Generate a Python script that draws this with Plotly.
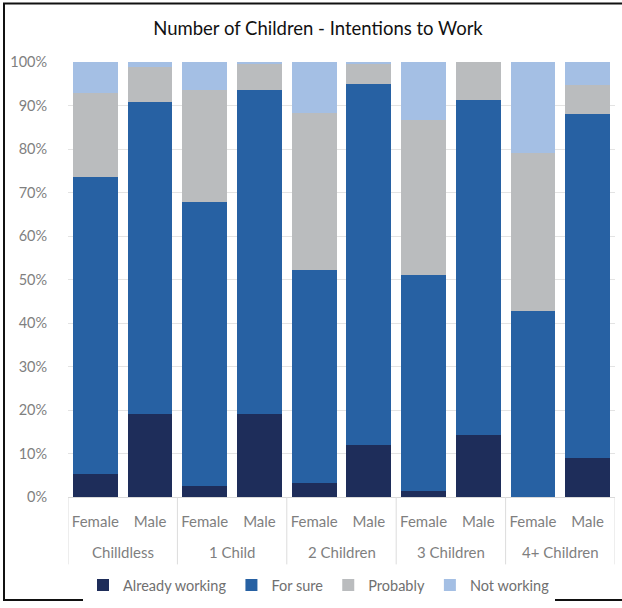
import plotly.graph_objects as go

groups = ["Chilldless", "Chilldless", "1 Child", "1 Child", "2 Children", "2 Children",
          "3 Children", "3 Children", "4+ Children", "4+ Children"]
sexes = ["Female", "Male"] * 5

already_working = [0.053, 0.190, 0.025, 0.190, 0.032, 0.120, 0.014, 0.143, 0.000, 0.089]
for_sure        = [0.683, 0.718, 0.654, 0.746, 0.490, 0.830, 0.496, 0.770, 0.428, 0.791]
probably        = [0.193, 0.081, 0.257, 0.061, 0.360, 0.045, 0.356, 0.087, 0.362, 0.068]
not_working     = [0.071, 0.011, 0.064, 0.003, 0.118, 0.005, 0.134, 0.000, 0.210, 0.052]

series = [
    ("Already working", already_working, "#1E2D5A"),
    ("For sure", for_sure, "#2761A3"),
    ("Probably", probably, "#BABCBE"),
    ("Not working", not_working, "#A4BFE4"),
]

FONT = "Lato, 'Open Sans', sans-serif"
GRAY = "#7F7F7F"

keys = [f"{g}|{s}" for g, s in zip(groups, sexes)]

fig = go.Figure()
for name, vals, col in series:
    fig.add_trace(go.Bar(
        x=keys, y=vals, name=name,
        marker=dict(color=col, line=dict(width=0)),
    ))

W, H = 622, 608
L, R, T, B = 68, 7, 62, 107
pw = W - L - R
ph = H - T - B

def px_x(p):
    return (p - L) / pw

def px_y(p):
    return (H - B - p) / ph

# group labels and dividers derived from the category list
unique_groups = []
for g in groups:
    if g not in unique_groups:
        unique_groups.append(g)

annotations = []
shapes = []
div_y0 = 0
div_y1 = px_y(569)
for g in unique_groups:
    idx = [i for i, gg in enumerate(groups) if gg == g]
    annotations.append(dict(
        x=(idx[0] + idx[-1]) / 2, xref="x",
        y=px_y(557), yref="paper", yanchor="middle",
        text=g, showarrow=False,
        font=dict(family=FONT, size=15, color=GRAY),
    ))
    shapes.append(dict(type="line", xref="x", yref="paper",
                       x0=idx[0] - 0.5, x1=idx[0] - 0.5, y0=div_y0, y1=div_y1,
                       line=dict(color="#DCDCDC", width=1)))
shapes.append(dict(type="line", xref="x", yref="paper",
                   x0=len(groups) - 0.5, x1=len(groups) - 0.5, y0=div_y0, y1=div_y1,
                   line=dict(color="#DCDCDC", width=1)))

shapes.append(dict(
    type="path", xref="paper", yref="paper",
    path=f"M {px_x(622)} {px_y(3)} L {px_x(4)} {px_y(3)} L {px_x(4)} {px_y(605)} L {px_x(622)} {px_y(605)}",
    line=dict(color="#111111", width=2)))

fig.update_layout(
    width=W, height=H,
    barmode="stack",
    bargap=0.18,
    margin=dict(l=L, r=R, t=T, b=B),
    paper_bgcolor="white",
    plot_bgcolor="white",
    font=dict(family=FONT, size=14, color=GRAY),
    title=dict(text="Number of Children - Intentions to Work",
               x=318 / W, xref="container", xanchor="center",
               y=1 - 29 / H, yref="container", yanchor="middle",
               font=dict(family=FONT, size=18.5, color="#111111")),
    showlegend=True,
    legend=dict(orientation="h", x=px_x(319), xanchor="center",
                y=px_y(590), yanchor="middle",
                font=dict(family=FONT, size=14.5, color="#707070"),
                traceorder="normal", itemwidth=30, tracegroupgap=0),
    xaxis=dict(
        type="category",
        range=[-0.5, len(keys) - 0.5],
        tickmode="array", tickvals=keys, ticktext=sexes,
        showgrid=False,
        showline=True, linecolor="#D9D9D9", linewidth=1,
        ticks="outside", ticklen=11, tickcolor="rgba(0,0,0,0)",
        tickfont=dict(family=FONT, size=15, color=GRAY),
    ),
    yaxis=dict(
        range=[0, 1],
        tickformat=".0%",
        dtick=0.1,
        showgrid=True, gridcolor="#E3E3E3", gridwidth=1,
        zeroline=False,
        showline=False,
        ticks="outside", ticklen=17, tickcolor="rgba(0,0,0,0)",
        tickfont=dict(family=FONT, size=14.5, color=GRAY),
    ),
    annotations=annotations,
    shapes=shapes,
)

fig.write_html("out.html")
